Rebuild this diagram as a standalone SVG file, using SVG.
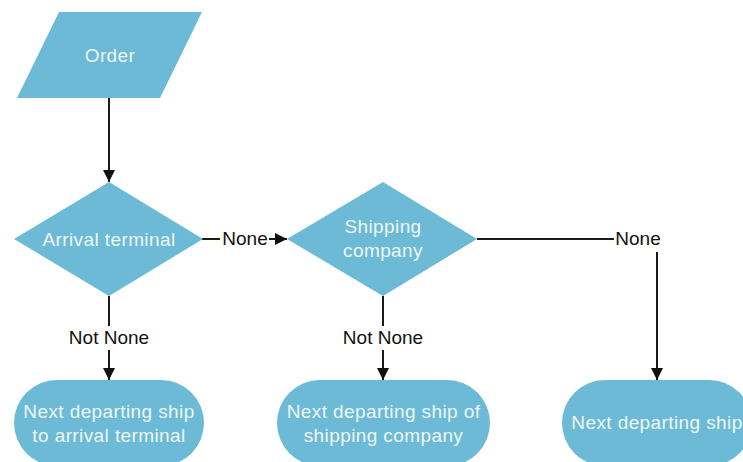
<svg xmlns="http://www.w3.org/2000/svg" width="743" height="462" viewBox="0 0 743 462">
  <style>
    .shape { fill: #6cbad5; stroke: none; }
    .nodeText { font-family: "Liberation Sans", Arial, sans-serif; font-size: 19px; letter-spacing: 0.4px; fill: #eef7fa; text-anchor: middle; }
    .edge { stroke: #1a1a1a; stroke-width: 2; fill: none; }
    .edgeText { font-family: "Liberation Sans", Arial, sans-serif; font-size: 19px; fill: #111; text-anchor: middle; }
  </style>
  <defs>
    <marker id="arrow" viewBox="0 0 12 12" refX="12" refY="6" markerWidth="12" markerHeight="12" markerUnits="userSpaceOnUse" orient="auto">
      <path d="M0,0 L12,6 L0,12 Z" fill="#111"/>
    </marker>
  </defs>
  <rect width="743" height="462" fill="#ffffff"/>

  <g id="connectors">
    <!-- Order to Arrival terminal -->
    <line class="edge" x1="109" y1="98" x2="109" y2="182" marker-end="url(#arrow)"/>
    <!-- Arrival terminal: None -> Shipping company -->
    <line class="edge" x1="202" y1="239" x2="220" y2="239"/>
    <line class="edge" x1="269" y1="239" x2="287" y2="239" marker-end="url(#arrow)"/>
    <text class="edgeText" x="245" y="245">None</text>
    <!-- Arrival terminal: Not None -> next ship to terminal -->
    <line class="edge" x1="109" y1="296" x2="109" y2="326"/>
    <line class="edge" x1="109" y1="350" x2="109" y2="380" marker-end="url(#arrow)"/>
    <text class="edgeText" x="109" y="344">Not None</text>
    <!-- Shipping company: Not None -> next ship of company -->
    <line class="edge" x1="383" y1="296" x2="383" y2="326"/>
    <line class="edge" x1="383" y1="350" x2="383" y2="380" marker-end="url(#arrow)"/>
    <text class="edgeText" x="383" y="344">Not None</text>
    <!-- Shipping company: None -> next departing ship -->
    <line class="edge" x1="477" y1="239" x2="614" y2="239"/>
    <line class="edge" x1="657" y1="252" x2="657" y2="380" marker-end="url(#arrow)"/>
    <text class="edgeText" x="638" y="245">None</text>
  </g>

  <g id="order">
    <polygon class="shape" points="59,12 202,12 160,98 17,98"/>
    <text class="nodeText" x="110" y="62">Order</text>
  </g>

  <g id="arrival-terminal">
    <polygon class="shape" points="109,182 203,239 109,296 14,239"/>
    <text class="nodeText" x="109" y="246">Arrival terminal</text>
  </g>

  <g id="shipping-company">
    <polygon class="shape" points="383,182 477,239 383,296 287,239"/>
    <text class="nodeText" x="383" y="233">Shipping</text>
    <text class="nodeText" x="383" y="257">company</text>
  </g>

  <g id="ship-to-terminal">
    <rect class="shape" x="14" y="380" width="190" height="86" rx="43" ry="43"/>
    <text class="nodeText" x="109" y="418">Next departing ship</text>
    <text class="nodeText" x="109" y="442">to arrival terminal</text>
  </g>

  <g id="ship-of-company">
    <rect class="shape" x="277" y="380" width="213" height="86" rx="43" ry="43"/>
    <text class="nodeText" x="383.5" y="418">Next departing ship of</text>
    <text class="nodeText" x="383.5" y="442">shipping company</text>
  </g>

  <g id="next-ship">
    <rect class="shape" x="562" y="380" width="190" height="86" rx="43" ry="43"/>
    <text class="nodeText" x="657" y="429">Next departing ship</text>
  </g>
</svg>
